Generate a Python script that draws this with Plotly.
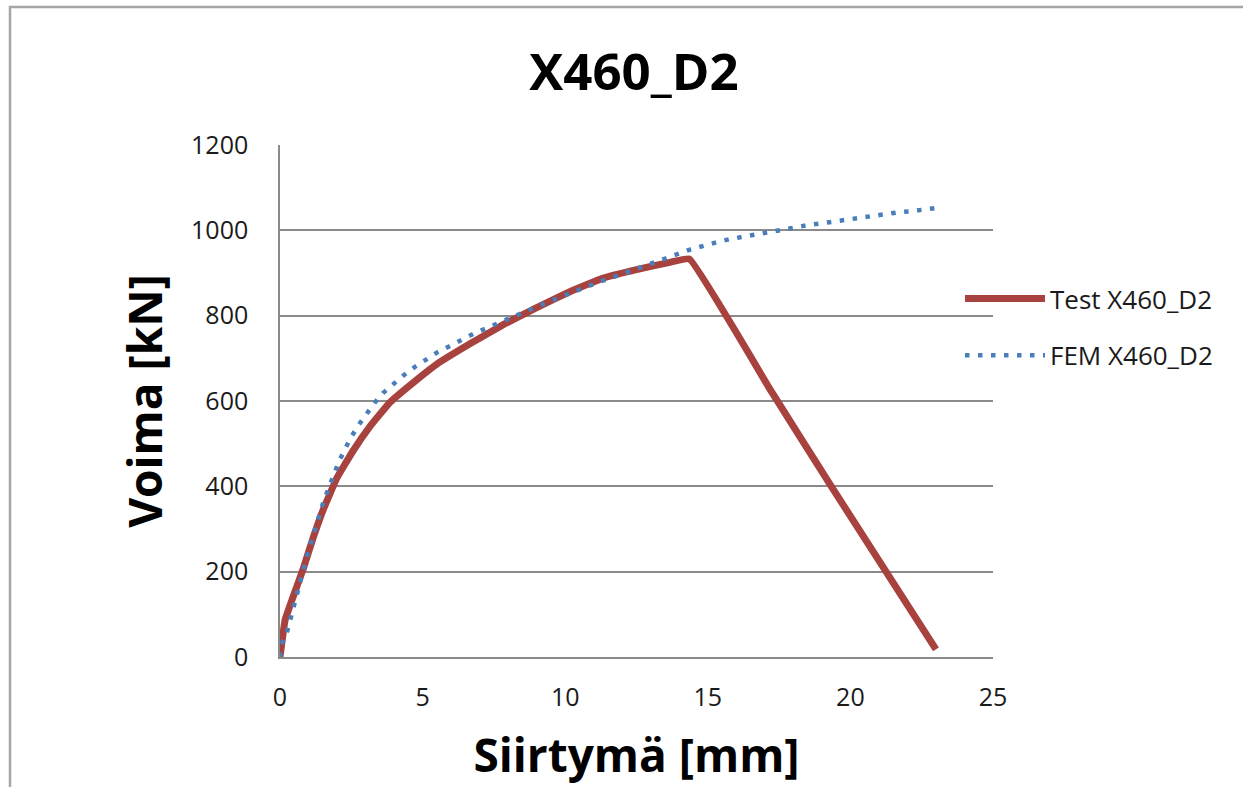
import plotly.graph_objects as go

# Test X460_D2 (displacement mm, force kN)
test_x = [0.0, 0.18, 0.47, 0.82, 1.17, 1.52, 1.99, 2.57, 3.15, 3.86, 4.56, 5.49, 6.66,
          7.83, 9.0, 10.16, 11.33, 12.5, 13.67, 14.35, 17.25, 19.28, 23.0]
test_y = [0, 87, 143, 208, 281, 346, 419, 484, 540, 597, 637, 686, 734,
          779, 819, 856, 888, 908, 925, 933, 620, 405, 18]

# FEM X460_D2
fem_x = [0.0, 0.06, 0.26, 0.37, 0.50, 0.62, 0.76, 0.86, 0.99, 1.12, 1.26, 1.40, 1.55, 1.72,
         1.88, 2.07, 2.28, 2.50, 2.75, 3.02, 3.31, 3.62, 3.97, 4.35, 4.73, 5.12, 5.54,
         5.96, 6.38, 6.80, 7.25, 7.69, 8.12, 8.57, 9.0, 9.44, 9.89, 10.33, 10.78, 11.22,
         11.67, 12.11, 12.56, 12.97, 13.46, 13.93, 14.38, 14.82, 15.31, 15.75, 16.24,
         16.71, 17.18, 17.65, 18.12, 18.58, 19.05, 19.54, 19.99, 20.71, 21.2, 21.65,
         22.14, 22.6, 23.09]
fem_y = [0, 30, 62, 95, 123, 153, 184, 214, 247, 277, 308, 339, 369, 398,
         428, 459, 487, 516, 543, 569, 595, 619, 640, 661, 680, 698, 715,
         729, 745, 758, 771, 784, 796, 808, 821, 833, 845, 857, 868, 880,
         890, 900, 911, 921, 932, 944, 955, 964, 972, 979, 985,
         991, 997, 1002, 1007, 1013, 1017, 1022, 1026, 1033, 1038, 1042,
         1045, 1049, 1053]

x_ticks = [0, 5, 10, 15, 20, 25]
y_ticks = [0, 200, 400, 600, 800, 1000, 1200]

FONT = "Open Sans, DejaVu Sans, sans-serif"
GRID = "#8a8a8a"

fig = go.Figure()
fig.add_trace(go.Scatter(x=test_x, y=test_y, mode="lines", name="Test X460_D2",
                         legendgroup="a",
                         line=dict(color="#A8423F", width=7, shape="spline", smoothing=0.3)))
fig.add_trace(go.Scatter(x=fem_x, y=fem_y, mode="lines", name="FEM X460_D2",
                         legendgroup="b",
                         line=dict(color="#4A7EBB", width=4.5, dash="4.5px,8.5px")))

L, R, T, B = 280, 250, 145, 130
W, H = 1243, 787
pw, ph = W - L - R, H - T - B

fig.update_layout(
    width=W, height=H,
    margin=dict(l=L, r=R, t=T, b=B),
    paper_bgcolor="white", plot_bgcolor="white",
    font=dict(family=FONT, color="#1a1a1a"),
    title=dict(text="<b>X460_D2</b>", x=0.51, xanchor="center", y=0.908, yanchor="middle",
               font=dict(size=51, color="black", family=FONT)),
    xaxis=dict(range=[0, 25], tickvals=x_ticks, ticktext=[str(v) for v in x_ticks],
               showgrid=False, zeroline=False, showline=True, linecolor=GRID, linewidth=1.5,
               ticks="", ticklabelstandoff=17,
               tickfont=dict(size=25, family=FONT, color="#1a1a1a"),
               title=dict(text="<b>Siirtymä [mm]</b>", standoff=28,
                          font=dict(size=46, family=FONT, color="black"))),
    yaxis=dict(range=[0, 1200], tickvals=y_ticks, ticktext=[str(v) for v in y_ticks],
               showgrid=True, gridcolor=GRID, gridwidth=1.5, zeroline=False,
               showline=True, linecolor=GRID, linewidth=1.5,
               ticks="", ticklabelstandoff=25,
               tickfont=dict(size=25, family=FONT, color="#1a1a1a"),
               title=dict(text="<b>Voima [kN]</b>", standoff=14,
                          font=dict(size=46, family=FONT, color="black"))),
    legend=dict(x=(960 - L) / pw, xanchor="left", y=(H - B - 275) / ph, yanchor="top",
                font=dict(size=26, family=FONT, color="#1a1a1a"),
                bgcolor="rgba(0,0,0,0)", tracegroupgap=20, itemwidth=80,
                traceorder="grouped"),
    showlegend=True,
    shapes=[dict(type="rect", xref="paper", yref="paper",
                 x0=(10 - L) / pw, x1=1.6, y0=-0.6, y1=(H - B - 7) / ph,
                 line=dict(color="#a6a6a6", width=2.5), fillcolor="rgba(0,0,0,0)",
                 layer="below")],
)

fig.write_html("out.html")
